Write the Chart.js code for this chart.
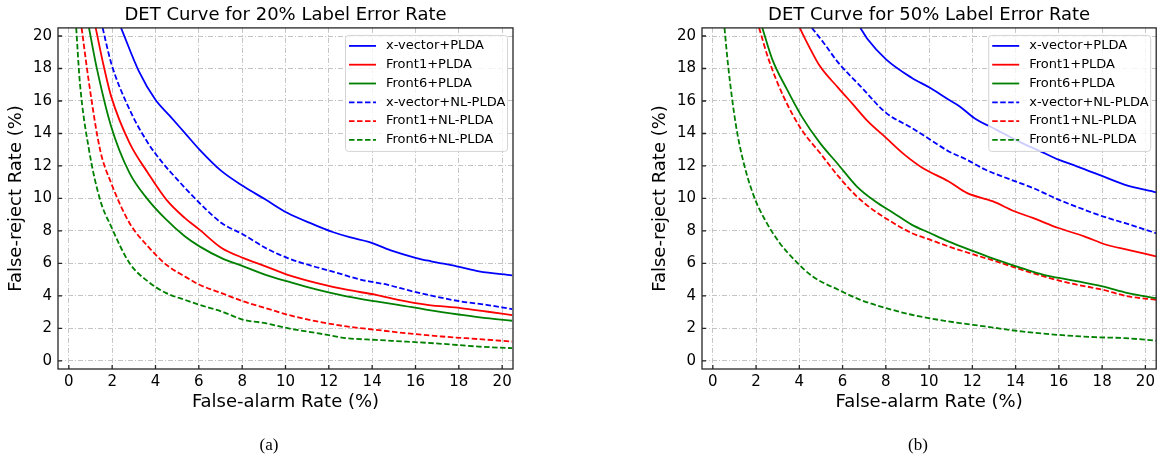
<!DOCTYPE html>
<html>
<head>
<meta charset="utf-8">
<script src="https://cdn.jsdelivr.net/npm/chart.js@4.4.1/dist/chart.umd.min.js"></script>
<style>
  body { margin: 0; background: #fff; width: 1159px; height: 456px; position: relative; overflow: hidden; }
  .box { position: absolute; top: 0; height: 456px; }
  .cap { position: absolute; font-family: "Liberation Serif", serif; font-size: 17px; color: #000; transform: translate(-50%, -50%); }
</style>
</head>
<body>
<div class="box" style="left:0;width:580px"><canvas id="chartA"></canvas></div>
<div class="box" style="left:580px;width:579px"><canvas id="chartB"></canvas></div>
<div class="cap" style="left:269px;top:445px">(a)</div>
<div class="cap" style="left:918px;top:445px">(b)</div>

<script>
// tick labels
const xTicks = [0, 2, 4, 6, 8, 10, 12, 14, 16, 18, 20];
const yTicks = [0, 2, 4, 6, 8, 10, 12, 14, 16, 18, 20];

const seriesNames = ['x-vector+PLDA', 'Front1+PLDA', 'Front6+PLDA', 'x-vector+NL-PLDA', 'Front1+NL-PLDA', 'Front6+NL-PLDA'];

// 20% label error rate, [false-alarm, false-reject]
const xvecPlda20 = [[2.41,20.5],[3.23,17.84],[3.99,16.09],[4.67,15.07],[5.35,14.04],[6.03,13.01],[7.05,11.68],[8.06,10.75],[9.08,9.93],[10.1,9.1],[11.29,8.4],[12.14,7.95],[13.0,7.6],[13.84,7.33],[14.86,6.8],[16.04,6.33],[16.72,6.13],[17.9,5.82],[18.93,5.51],[20.46,5.26]];
const front1Plda20 = [[1.24,20.5],[1.61,18.15],[1.95,16.3],[2.8,13.42],[3.65,11.57],[4.5,9.93],[5.35,8.8],[6.03,8.08],[7.05,6.95],[8.06,6.33],[9.08,5.82],[10.1,5.3],[11.46,4.79],[12.82,4.38],[14.18,4.07],[15.2,3.76],[16.55,3.45],[18.08,3.25],[19.27,3.04],[20.46,2.82]];
const front6Plda20 = [[0.93,20.5],[1.27,18.15],[1.95,14.45],[2.8,11.57],[3.65,9.93],[4.5,8.69],[5.35,7.67],[6.03,7.05],[7.05,6.33],[8.06,5.82],[9.08,5.3],[10.1,4.89],[11.46,4.38],[12.82,3.97],[14.18,3.66],[15.2,3.45],[16.55,3.14],[18.08,2.84],[19.27,2.63],[20.46,2.47]];
const xvecNl20 = [[1.56,20.5],[1.95,18.36],[2.8,15.48],[3.65,13.42],[4.33,12.19],[5.01,11.16],[6.03,9.72],[7.05,8.49],[8.06,7.77],[9.08,6.95],[10.1,6.33],[11.29,5.82],[12.14,5.51],[13.5,4.99],[14.69,4.69],[15.87,4.28],[16.89,3.97],[18.08,3.66],[19.27,3.45],[20.46,3.19]];
const front1Nl20 = [[0.59,20.5],[0.93,17.12],[1.44,13.01],[1.95,10.96],[2.8,8.49],[3.65,7.05],[4.5,5.92],[5.35,5.2],[6.03,4.69],[7.05,4.17],[8.06,3.66],[9.08,3.25],[10.1,2.84],[11.46,2.43],[12.82,2.12],[14.18,1.91],[15.53,1.71],[17.23,1.5],[18.93,1.34],[20.46,1.19]];
const front6Nl20 = [[0.34,20.5],[0.51,17.12],[0.93,13.01],[1.44,9.93],[1.95,8.28],[2.8,6.02],[3.65,4.89],[4.5,4.17],[5.35,3.76],[6.03,3.45],[7.05,3.04],[8.06,2.53],[9.08,2.32],[10.1,2.01],[11.46,1.71],[12.82,1.4],[14.18,1.29],[15.53,1.19],[17.23,1.05],[18.93,0.88],[20.46,0.78]];

// 50% label error rate
const xvecPlda50 = [[6.82,20.5],[7.16,19.8],[8.01,18.56],[9.19,17.43],[10.04,16.81],[10.89,16.09],[11.4,15.68],[12.08,14.96],[13.1,14.24],[14.28,13.42],[15.13,12.91],[15.98,12.39],[16.83,11.98],[18.02,11.37],[19.03,10.85],[20.49,10.38]];
const front1Plda50 = [[4.02,20.5],[4.44,19.38],[4.95,18.15],[5.8,16.81],[6.48,15.79],[7.16,14.76],[8.01,13.73],[8.86,12.7],[9.7,11.88],[10.89,11.06],[11.74,10.34],[12.93,9.83],[13.94,9.21],[14.79,8.8],[15.98,8.18],[17.17,7.67],[18.19,7.15],[19.2,6.84],[20.49,6.43]];
const front6Plda50 = [[2.29,20.5],[2.75,18.56],[3.43,16.71],[4.1,15.07],[4.95,13.42],[5.8,12.09],[6.65,10.75],[7.5,9.83],[8.35,9.11],[9.19,8.39],[10.04,7.87],[10.89,7.36],[12.08,6.74],[13.1,6.23],[14.28,5.71],[15.3,5.3],[16.49,4.99],[18.02,4.58],[19.2,4.17],[20.49,3.86]];
const xvecNl50 = [[4.58,20.5],[5.12,19.59],[5.8,18.36],[6.82,16.92],[8.01,15.27],[9.19,14.35],[10.04,13.63],[10.89,12.91],[11.74,12.39],[12.59,11.78],[13.77,11.16],[14.79,10.65],[15.98,9.93],[17.17,9.31],[18.02,8.9],[19.03,8.49],[20.49,7.87]];
const front1Nl50 = [[2.14,20.5],[2.58,18.56],[3.26,16.3],[4.1,14.24],[4.95,12.81],[5.8,11.37],[6.65,10.13],[7.5,9.21],[8.35,8.49],[9.19,7.87],[10.04,7.46],[10.89,7.05],[12.08,6.54],[13.1,6.13],[14.28,5.61],[15.3,5.2],[16.49,4.79],[18.02,4.38],[19.2,3.97],[20.49,3.76]];
const front6Nl50 = [[0.54,20.5],[0.71,18.15],[1.05,14.66],[1.39,12.39],[1.9,10.13],[2.41,8.69],[3.09,7.26],[3.77,6.23],[4.61,5.2],[5.8,4.38],[6.82,3.76],[8.01,3.25],[9.19,2.84],[10.89,2.43],[12.59,2.12],[14.28,1.81],[15.98,1.6],[17.68,1.46],[19.03,1.4],[20.49,1.25]];

const FONT = '"DejaVu Sans", sans-serif';
const lineColors = ['#0000ff', '#ff0000', '#008000', '#0000ff', '#ff0000', '#008000'];
const GRID = '#c4c4c4';

// frame round the plot + inward tick marks
const framePlugin = {
  id: 'frame',
  afterDatasetsDraw(chart) {
    const {ctx, chartArea: a, scales} = chart;
    ctx.save();
    ctx.strokeStyle = '#262626';
    ctx.lineWidth = 1.3;
    ctx.strokeRect(a.left, a.top, a.right - a.left, a.bottom - a.top);
    ctx.beginPath();
    scales.x.ticks.forEach(t => {
      const px = scales.x.getPixelForValue(t.value);
      ctx.moveTo(px, a.bottom);
      ctx.lineTo(px, a.bottom - 4);
    });
    scales.y.ticks.forEach(t => {
      const py = scales.y.getPixelForValue(t.value);
      ctx.moveTo(a.left, py);
      ctx.lineTo(a.left + 4, py);
    });
    ctx.stroke();
    ctx.restore();
  }
};

// legend box in the upper right corner
const legendPlugin = {
  id: 'boxLegend',
  afterDraw(chart) {
    const {ctx, chartArea: a} = chart;
    const w = 162, h = 116;
    const x0 = a.right - 6 - w, y0 = a.top + 7;
    ctx.save();
    ctx.fillStyle = 'rgba(255,255,255,0.8)';
    ctx.strokeStyle = '#d4d4d4';
    ctx.lineWidth = 1;
    ctx.beginPath();
    ctx.roundRect(x0 + 0.5, y0 + 0.5, w, h, 3);
    ctx.fill();
    ctx.stroke();
    ctx.font = '13px ' + FONT;
    ctx.textBaseline = 'middle';
    chart.data.datasets.forEach((ds, i) => {
      const cy = y0 + 11 + i * 18.8;
      ctx.strokeStyle = ds.borderColor;
      ctx.lineWidth = ds.borderWidth;
      ctx.setLineDash(ds.borderDash);
      ctx.beginPath();
      ctx.moveTo(x0 + 4, cy);
      ctx.lineTo(x0 + 31, cy);
      ctx.stroke();
      ctx.setLineDash([]);
      ctx.fillStyle = '#000';
      ctx.fillText(ds.label, x0 + 41, cy);
    });
    ctx.restore();
  }
};

function makeChart(id, title, sets, padLeft, padRight) {
  const datasets = sets.map((pts, i) => ({
    label: seriesNames[i],
    data: pts.map(p => ({x: p[0], y: p[1]})),
    borderColor: lineColors[i],
    borderWidth: 1.8,
    borderDash: i > 2 ? [5.5, 2.5] : [],
    pointRadius: 0,
    fill: false,
    cubicInterpolationMode: 'monotone'
  }));

  return new Chart(document.getElementById(id), {
    type: 'line',
    data: {datasets},
    options: {
      responsive: true,
      maintainAspectRatio: false,
      animation: false,
      layout: {padding: {left: padLeft, right: padRight, top: 0, bottom: 40}, autoPadding: false},
      plugins: {
        legend: {display: false},
        tooltip: {enabled: false},
        title: {
          display: true, text: title, fullSize: false, color: '#000',
          font: {family: FONT, size: 18, weight: 'normal'},
          padding: {top: 4.4, bottom: 1.9}
        }
      },
      scales: {
        x: {
          type: 'linear', min: -0.5, max: 20.5,
          afterBuildTicks: s => { s.ticks = xTicks.map(v => ({value: v})); },
          afterFit: s => { s.height = 47; },
          ticks: {color: '#000', font: {family: FONT, size: 15}, padding: 4, autoSkip: false, maxRotation: 0},
          grid: {color: GRID, lineWidth: 1, drawTicks: false},
          border: {display: false, dash: [5, 2, 1, 2]},
          title: {display: true, text: 'False-alarm Rate (%)', color: '#000', font: {family: FONT, size: 18}, padding: {top: 0, bottom: 3}}
        },
        y: {
          type: 'linear', min: -0.5, max: 20.5,
          afterBuildTicks: s => { s.ticks = yTicks.map(v => ({value: v})); },
          afterFit: s => { s.width = 58; },
          ticks: {color: '#000', font: {family: FONT, size: 15}, padding: 6, autoSkip: false},
          grid: {color: GRID, lineWidth: 1, drawTicks: false},
          border: {display: false, dash: [5, 2, 1, 2]},
          title: {display: true, text: 'False-reject Rate (%)', color: '#000', font: {family: FONT, size: 18}, padding: {top: 6, bottom: 0}}
        }
      }
    },
    plugins: [framePlugin, legendPlugin]
  });
}

makeChart('chartA', 'DET Curve for 20% Label Error Rate',
  [xvecPlda20, front1Plda20, front6Plda20, xvecNl20, front1Nl20, front6Nl20], 0, 67);
makeChart('chartB', 'DET Curve for 50% Label Error Rate',
  [xvecPlda50, front1Plda50, front6Plda50, xvecNl50, front1Nl50, front6Nl50], 64, 1);
</script>
</body>
</html>
